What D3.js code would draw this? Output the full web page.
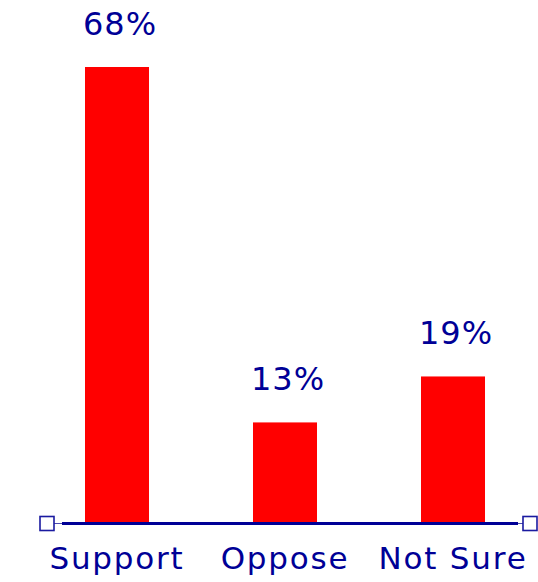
<!DOCTYPE html>
<html>
<head>
<meta charset="utf-8">
<script src="https://cdn.jsdelivr.net/npm/d3@7"></script>
<style>
  html, body { margin: 0; padding: 0; background: #fff; }
  svg { display: block; }
</style>
</head>
<body>
<div id="chart"></div>
<script>
const categories = ["Support", "Oppose", "Not Sure"];
const values = [68, 13, 19];
const valueLabels = ["68%", "13%", "19%"];

const W = 538, H = 582;
const navy = "#000096";
const barColor = "#ff0000";
const font = "'DejaVu Sans', sans-serif";

const svg = d3.select("#chart").append("svg")
  .attr("width", W).attr("height", H);

const x = d3.scaleBand()
  .domain(categories)
  .range([33, 537])
  .paddingInner(0.619)
  .paddingOuter(0.3095);

// bars whose value exceeds the visible range are clamped at the top
const y = d3.scaleLinear()
  .domain([0, 59.4])
  .range([522, 67])
  .clamp(true);

const data = categories.map((c, i) => ({ c, v: values[i], label: valueLabels[i] }));

svg.selectAll("rect.bar").data(data).enter().append("rect")
  .attr("class", "bar")
  .attr("x", d => x(d.c))
  .attr("width", x.bandwidth())
  .attr("y", d => y(d.v))
  .attr("height", d => y(0) - y(d.v))
  .attr("fill", barColor);

svg.selectAll("text.val").data(data).enter().append("text")
  .attr("class", "val")
  .attr("x", d => x(d.c) + x.bandwidth() / 2 + 3)
  .attr("y", d => y(d.v) - 32)
  .attr("text-anchor", "middle")
  .attr("font-family", font)
  .attr("font-size", 32)
  .attr("letter-spacing", 1)
  .attr("fill", navy)
  .text(d => d.label);

// baseline axis
const axisY = 523.5;
const g = svg.append("g");
g.append("line")
  .attr("x1", 54).attr("x2", 523)
  .attr("y1", axisY).attr("y2", axisY)
  .attr("stroke", "#4a4ab0").attr("stroke-width", 1.2);
g.append("line")
  .attr("x1", 62).attr("x2", 518)
  .attr("y1", axisY).attr("y2", axisY)
  .attr("stroke", navy).attr("stroke-width", 3);
[47, 530].forEach(cx => {
  g.append("rect")
    .attr("x", cx - 7).attr("y", axisY - 7)
    .attr("width", 14).attr("height", 14)
    .attr("fill", "#fff")
    .attr("stroke", "#1a1aa0").attr("stroke-width", 1.6);
});

const axis = d3.axisBottom(x).tickSize(0).tickPadding(0);
const ax = svg.append("g")
  .call(axis);
ax.select(".domain").remove();
ax.selectAll(".tick text")
  .attr("y", 569)
  .attr("dy", 0)
  .attr("font-family", font)
  .attr("font-size", 31)
  .attr("letter-spacing", 1.8)
  .attr("fill", navy);
</script>
</body>
</html>
